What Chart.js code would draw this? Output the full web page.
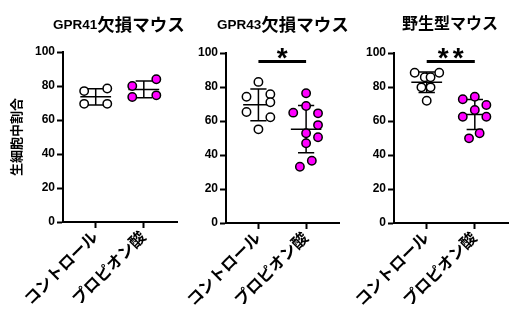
<!DOCTYPE html>
<html lang="ja">
<head>
<meta charset="UTF-8">
<title>生細胞中割合</title>
<script src="https://cdn.jsdelivr.net/npm/chart.js"></script>
<style>
  body { margin: 0; background: #fff; }
  .wrap { position: relative; width: 520px; height: 322px; overflow: hidden; }
  .wrap canvas { position: absolute; top: 0; }
  .title {
    position: absolute;
    top: 9px;
    font: bold 13.5px 'Liberation Sans', sans-serif;
    color: #000;
    white-space: nowrap;
  }
  .title .jp { font-family: 'Noto Sans CJK JP', sans-serif; font-size: 17.5px; position: relative; top: 2px; }
  .title.wt .jp { font-size: 16px; top: 1px; }
</style>
</head>
<body>
<div class="wrap">
  <canvas id="ko41" width="200" height="322" style="left:0"></canvas>
  <canvas id="ko43" width="190" height="322" style="left:170px"></canvas>
  <canvas id="wt" width="180" height="322" style="left:340px"></canvas>
  <div class="title" style="left:53px">GPR41<span class="jp">欠損マウス</span></div>
  <div class="title" style="left:217px">GPR43<span class="jp">欠損マウス</span></div>
  <div class="title wt" style="left:402px"><span class="jp">野生型マウス</span></div>
</div>

<script>
const categories = ['コントロール', 'プロピオン酸'];
const yTicks = [0, 20, 40, 60, 80, 100];
const yLabel = '生細胞中割合';

// GPR41欠損マウス
const ko41Control = [77, 78.5, 69.5, 69.5];
const ko41ControlX = [-0.24, 0.24, -0.24, 0.24];
const ko41Propionate = [80, 84, 73.5, 74.5];
const ko41PropionateX = [-0.24, 0.26, -0.24, 0.26];

// GPR43欠損マウス
const ko43Control = [83, 74.3, 75.7, 71, 65.3, 62.2, 55.1];
const ko43ControlX = [0, -0.25, 0.25, 0.25, -0.25, 0.25, 0];
const ko43Propionate = [76.3, 68.8, 64.9, 64.5, 57.6, 52.8, 50.4, 46.9, 36.6, 33.1];
const ko43PropionateX = [0, 0, -0.27, 0.25, 0.25, 0, 0.25, 0, 0.12, -0.13];

// 野生型マウス
const wtControl = [88.4, 88.4, 85.7, 85.7, 79.8, 79.8, 71.9];
const wtControlX = [-0.25, 0.26, -0.04, 0.08, -0.11, 0.08, 0];
const wtPropionate = [74.3, 72.8, 69.4, 66.5, 62.5, 62.5, 52.8, 49.8];
const wtPropionateX = [0, -0.25, 0.24, 0, -0.25, 0.24, 0.1, -0.12];

// significance marks per panel
const sigMarks = ['', '*', '**'];
const sigLevel = 95;

const FONT = "'Liberation Sans', 'Noto Sans CJK JP', sans-serif";

function mean(a) { return a.reduce((s, v) => s + v, 0) / a.length; }
function sd(a) {
  const m = mean(a);
  return Math.sqrt(a.reduce((s, v) => s + (v - m) * (v - m), 0) / (a.length - 1));
}

// mean line + SD whiskers, drawn under the dots
const meanSdBars = {
  id: 'meanSdBars',
  beforeDatasetsDraw(chart) {
    const { ctx, scales: { x, y } } = chart;
    ctx.save();
    ctx.strokeStyle = '#000';
    ctx.lineWidth = 1.5;
    chart.data.datasets.forEach((ds, i) => {
      const vals = ds.data.map(p => p.y);
      const m = mean(vals), s = sd(vals);
      const cx = x.getPixelForValue(i);
      const capL = x.getPixelForValue(i - 0.17), capR = x.getPixelForValue(i + 0.17);
      const midL = x.getPixelForValue(i - 0.32), midR = x.getPixelForValue(i + 0.32);
      const top = y.getPixelForValue(m + s), bot = y.getPixelForValue(m - s), mid = y.getPixelForValue(m);
      ctx.beginPath();
      ctx.moveTo(cx, top); ctx.lineTo(cx, bot);
      ctx.moveTo(capL, top); ctx.lineTo(capR, top);
      ctx.moveTo(capL, bot); ctx.lineTo(capR, bot);
      ctx.moveTo(midL, mid); ctx.lineTo(midR, mid);
      ctx.stroke();
    });
    ctx.restore();
  }
};

// bracket line with asterisks between the two groups
const sigBar = {
  id: 'sigBar',
  afterDatasetsDraw(chart, args, opts) {
    if (!opts.text) return;
    const { ctx, scales: { x, y } } = chart;
    const x0 = x.getPixelForValue(0), x1 = x.getPixelForValue(1);
    const py = y.getPixelForValue(opts.level);
    ctx.save();
    ctx.strokeStyle = '#000';
    ctx.lineWidth = 3;
    ctx.beginPath();
    ctx.moveTo(x0, py);
    ctx.lineTo(x1, py);
    ctx.stroke();
    ctx.fillStyle = '#000';
    ctx.font = "bold 28px 'Liberation Sans'";
    ctx.textAlign = 'center';
    ctx.textBaseline = 'alphabetic';
    // space the stars a little wider than the font does
    const n = opts.text.length, step = 15;
    const cx = (x0 + x1) / 2;
    for (let k = 0; k < n; k++) {
      ctx.fillText(opts.text[k], cx + (k - (n - 1) / 2) * step, py + 5);
    }
    ctx.restore();
  }
};

function makePanel(id, control, controlX, propionate, propionateX, o) {
  new Chart(document.getElementById(id), {
    type: 'scatter',
    data: {
      datasets: [{
        data: control.map((v, i) => ({ x: controlX[i], y: v })),
        pointBackgroundColor: '#ffffff'
      }, {
        data: propionate.map((v, i) => ({ x: 1 + propionateX[i], y: v })),
        pointBackgroundColor: '#ff00ff'
      }]
    },
    options: {
      responsive: false,
      animation: false,
      events: [],
      clip: false,
      layout: { padding: { top: o.top, right: o.right, left: 0, bottom: 0 } },
      elements: {
        point: { radius: 4.2, borderWidth: 1.5, borderColor: '#000' }
      },
      scales: {
        x: {
          type: 'linear',
          min: -0.68,
          max: 1.69,
          afterBuildTicks: s => { s.ticks = categories.map((_, i) => ({ value: i })); },
          afterFit: s => { s.height = 322 - o.bottom; },
          ticks: {
            callback: v => categories[v],
            minRotation: 45,
            maxRotation: 45,
            autoSkip: false,
            padding: 0,
            color: '#000',
            font: { family: FONT, size: 16, weight: 'bold' }
          },
          grid: { drawOnChartArea: false, tickLength: 6, tickWidth: 2, tickColor: '#000' },
          border: { color: '#000', width: 2 }
        },
        y: {
          min: 0,
          max: 100,
          afterBuildTicks: s => { s.ticks = yTicks.map(v => ({ value: v })); },
          afterFit: s => { s.width = o.yWidth; },
          ticks: { color: '#000', padding: 2, font: { family: FONT, size: 12, weight: 'bold' } },
          grid: { drawOnChartArea: false, tickLength: 6, tickWidth: 2, tickColor: '#000' },
          border: { color: '#000', width: 2 },
          title: {
            display: !!o.yTitle,
            text: o.yTitle,
            color: '#000',
            padding: { top: 10, bottom: 0 },
            font: { family: FONT, size: 13, weight: 'bold' }
          }
        }
      },
      plugins: {
        legend: { display: false },
        tooltip: { enabled: false },
        sigBar: { text: o.sig, level: sigLevel }
      }
    },
    plugins: [meanSdBars, sigBar]
  });
}

makePanel('ko41', ko41Control, ko41ControlX, ko41Propionate, ko41PropionateX,
  { top: 52, bottom: 222, right: 23, yWidth: 63, yTitle: yLabel, sig: sigMarks[0] });
makePanel('ko43', ko43Control, ko43ControlX, ko43Propionate, ko43PropionateX,
  { top: 53, bottom: 223, right: 21, yWidth: 56, yTitle: '', sig: sigMarks[1] });
makePanel('wt', wtControl, wtControlX, wtPropionate, wtPropionateX,
  { top: 53, bottom: 223, right: 12, yWidth: 54, yTitle: '', sig: sigMarks[2] });
</script>
</body>
</html>
